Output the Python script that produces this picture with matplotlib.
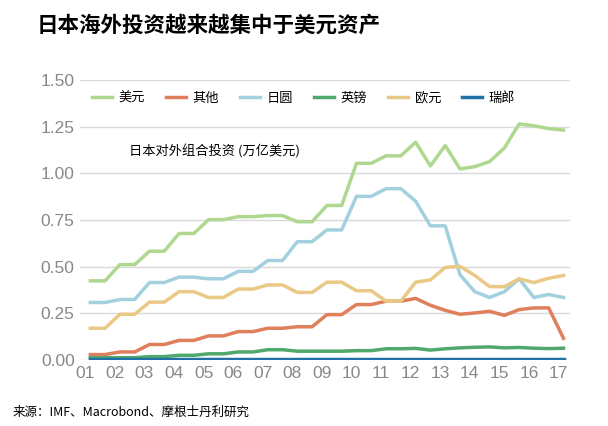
import matplotlib
matplotlib.use("Agg")
import matplotlib.pyplot as plt
import numpy as np

plt.rcParams['font.family'] = ['Noto Sans CJK SC', 'DejaVu Sans']

tick_labels = ["01","02","03","04","05","06","07","08","09","10","11","12","13","14","15","16","17"]
usd = [.424,.424,.511,.511,.583,.583,.678,.678,.752,.752,.768,.768,.774,.774,.741,.741,.828,.828,1.054,1.054,1.094,1.094,1.167,1.04,1.149,1.024,1.036,1.063,1.136,1.265,1.255,1.24,1.232]
other = [.029,.029,.043,.043,.083,.083,.105,.105,.129,.129,.152,.152,.170,.170,.178,.178,.243,.243,.297,.297,.315,.315,.330,.293,.266,.245,.252,.261,.239,.270,.279,.279,.116]
jpy = [.308,.308,.324,.324,.415,.415,.444,.444,.435,.435,.475,.475,.533,.533,.634,.634,.697,.697,.877,.877,.918,.918,.851,.719,.719,.457,.366,.335,.366,.435,.335,.351,.335]
gbp = [.012,.012,.012,.012,.018,.018,.025,.025,.033,.033,.043,.043,.055,.055,.047,.047,.047,.047,.05,.05,.06,.06,.062,.053,.06,.065,.068,.07,.065,.067,.063,.061,.063]
eur = [.170,.170,.245,.245,.310,.310,.366,.366,.335,.335,.380,.380,.402,.402,.362,.362,.417,.417,.371,.371,.315,.315,.417,.429,.496,.502,.453,.393,.393,.435,.415,.438,.453]
chf = [.005]*33
names = ["美元","其他","日圆","英镑","欧元","瑞郎"]
colors = ["#aed890","#e07f5c","#a3d0de","#50a86c","#e9c985","#2171a6"]

x = 1.17 + 0.5*np.arange(len(usd))

fig = plt.figure(figsize=(6.08,4.26), dpi=100)
ax = fig.add_axes([0.132,0.155,0.806,0.657])
for s,n,c in zip([usd,other,jpy,gbp,eur,chf],names,colors):
    ax.plot(x,s,color=c,lw=2.5,label=n,solid_joinstyle='round')
ax.set_xlim(0.83,17.4)
ax.set_ylim(0,1.5)
ax.set_yticks(np.arange(0,1.51,0.25))
ax.set_yticklabels([f"{v:.2f}" for v in np.arange(0,1.51,0.25)])
ax.set_xticks(np.arange(1,18))
ax.set_xticklabels(tick_labels)
for lab in ax.get_xticklabels()+ax.get_yticklabels():
    lab.set_fontfamily('Liberation Sans')
ax.grid(axis='y',color='#d9d9d9',lw=1)
ax.set_axisbelow(True)
for sp in ax.spines.values(): sp.set_visible(False)
ax.tick_params(length=0,labelsize=12.5,labelcolor='#888888',pad=4)
ax.legend(loc='upper left',bbox_to_anchor=(0.0,1.0),ncol=6,frameon=False,fontsize=9.5,handlelength=1.5,columnspacing=1.6,handletextpad=0.5)
ax.text(0.1,0.73,"日本对外组合投资 (万亿美元)",transform=ax.transAxes,fontsize=9.5)
fig.text(0.06,0.925,"日本海外投资越来越集中于美元资产",fontsize=15.5,fontweight='bold')
fig.text(0.02,0.025,"来源：IMF、Macrobond、摩根士丹利研究",fontsize=9)
fig.savefig("out.png",dpi=100)
